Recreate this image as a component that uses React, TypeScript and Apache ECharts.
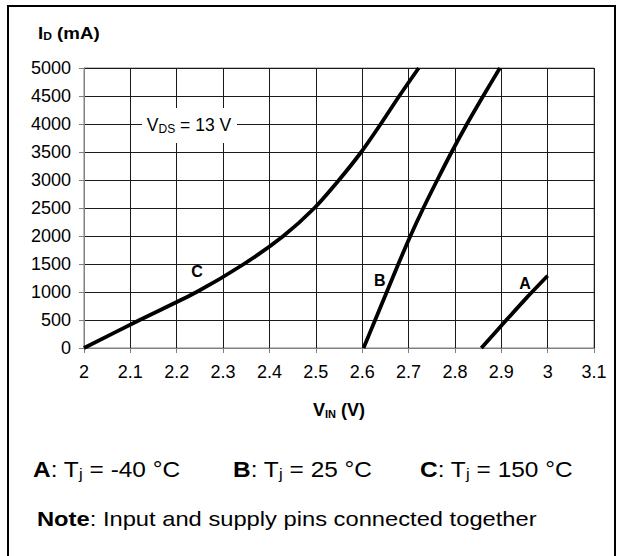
import React, { useEffect, useRef } from "react";
import * as echarts from "echarts";

// Curve data: [V_IN (V), I_D (mA)]
const curveA: [number, number][] = [
  [2.857, 0], [2.91, 490], [2.955, 900], [3.0, 1290],
];
const curveB: [number, number][] = [
  [2.603, 0], [2.628, 500], [2.653, 1000], [2.678, 1500], [2.704, 2000],
  [2.732, 2500], [2.762, 3000], [2.793, 3500], [2.826, 4000], [2.861, 4500],
  [2.897, 5000],
];
const curveC: [number, number][] = [
  [2.0, 0], [2.12, 500], [2.243, 1000], [2.345, 1500], [2.43, 2000],
  [2.497, 2500], [2.55, 3000], [2.598, 3500], [2.64, 4000], [2.68, 4500],
  [2.722, 5000],
];
const curveNames = ["A", "B", "C"];
// label anchor for each curve letter, in data units
const labelPos: [number, number][] = [[2.951, 1160], [2.638, 1210], [2.244, 1360]];

const xMin = 2.0;
const xMax = 3.1;
const xStep = 0.1;
const yMin = 0;
const yMax = 5000;
const yStep = 500;

const legendItems = [
  { key: "A", temp: "-40 °C" },
  { key: "B", temp: "25 °C" },
  { key: "C", temp: "150 °C" },
];
const noteText = "Input and supply pins connected together";
const vdsText = "13 V";

const FONT = "'Liberation Sans', Arial, Helvetica, sans-serif";

export default function App() {
  const ref = useRef<HTMLDivElement>(null);
  useEffect(() => {
    if (!ref.current) return;
    const chart = echarts.init(ref.current, null, { renderer: "svg" });
    const datasets = [curveA, curveB, curveC];
    const series: any[] = datasets.map((d, i) => ({
      type: "line",
      name: curveNames[i],
      data: d,
      showSymbol: false,
      smooth: 0.25,
      lineStyle: { color: "#000", width: 3.8 },
      z: 5,
      markPoint: {
        symbol: "circle",
        symbolSize: 0,
        data: [{ coord: labelPos[i], value: curveNames[i] }],
        label: {
          show: true,
          formatter: curveNames[i],
          color: "#000",
          fontFamily: FONT,
          fontWeight: "bold",
          fontSize: 16,
        },
      },
    }));

    const legendX = [33, 233, 420];
    const graphic: any[] = [
      {
        type: "rect",
        shape: { x: 8, y: 6, width: 607, height: 600 },
        style: { fill: "none", stroke: "#000", lineWidth: 2 },
        silent: true,
      },
      {
        type: "text",
        x: 38,
        y: 33,
        scaleX: 1.1,
        style: {
          text: "{b|I}{s|D}{b| (mA)}",
          fontFamily: FONT,
          verticalAlign: "middle",
          rich: {
            b: { fontFamily: FONT, fontWeight: "bold", fontSize: 17, fill: "#000" },
            s: { fontFamily: FONT, fontWeight: "bold", fontSize: 11, fill: "#000", padding: [7, 0, 0, 0] },
          },
        },
      },
      {
        type: "text",
        x: 339,
        y: 410,
        style: {
          text: "{b|V}{s|IN}{b| (V)}",
          fontFamily: FONT,
          align: "center",
          verticalAlign: "middle",
          rich: {
            b: { fontFamily: FONT, fontWeight: "bold", fontSize: 18, fill: "#000" },
            s: { fontFamily: FONT, fontWeight: "bold", fontSize: 11, fill: "#000", padding: [7, 0, 0, 0] },
          },
        },
      },
      {
        type: "rect",
        shape: { x: 142, y: 108, width: 95, height: 35 },
        style: { fill: "#fff" },
        z: 10,
      },
      {
        type: "text",
        x: 189,
        y: 125,
        z: 11,
        style: {
          text: "{n|V}{s|DS}{n| = " + vdsText + "}",
          align: "center",
          verticalAlign: "middle",
          rich: {
            n: { fontFamily: FONT, fontSize: 17.5, fill: "#000" },
            s: { fontFamily: FONT, fontSize: 12, fill: "#000", padding: [7, 0, 0, 0] },
          },
        },
      },
      ...legendItems.map((it, i) => ({
        type: "text",
        x: legendX[i],
        y: 469,
        scaleX: 1.11,
        style: {
          text: "{b|" + it.key + "}{n|: T}{s|j}{n| = " + it.temp + "}",
          verticalAlign: "middle",
          rich: {
            b: { fontFamily: FONT, fontWeight: "bold", fontSize: 22, fill: "#000" },
            n: { fontFamily: FONT, fontSize: 22, fill: "#000" },
            s: { fontFamily: FONT, fontSize: 15, fill: "#000", padding: [9, 0, 0, 0] },
          },
        },
      })),
      {
        type: "text",
        x: 37,
        y: 519,
        scaleX: 1.13,
        style: {
          text: "{b|Note}{n|: " + noteText + "}",
          verticalAlign: "middle",
          rich: {
            b: { fontFamily: FONT, fontWeight: "bold", fontSize: 21, fill: "#000" },
            n: { fontFamily: FONT, fontSize: 21, fill: "#000" },
          },
        },
      },
    ];

    chart.setOption({
      animation: false,
      backgroundColor: "#fff",
      grid: { left: 84, right: 28, top: 68, bottom: 208, show: true, borderColor: "#808080", borderWidth: 1 },
      xAxis: {
        type: "value",
        min: xMin,
        max: xMax,
        interval: xStep,
        axisLine: { show: true, lineStyle: { color: "#808080", width: 1 } },
        axisTick: { show: true, length: 5, lineStyle: { color: "#808080" } },
        axisLabel: {
          margin: 15,
          color: "#000",
          fontFamily: FONT,
          fontSize: 18,
          formatter: (v: number) => String(Number(v.toFixed(1))),
        },
        splitLine: { show: true, lineStyle: { color: "#1a1a1a", width: 1 } },
      },
      yAxis: {
        type: "value",
        min: yMin,
        max: yMax,
        interval: yStep,
        axisLine: { show: true, lineStyle: { color: "#808080", width: 1 } },
        axisTick: { show: true, length: 5, lineStyle: { color: "#808080" } },
        axisLabel: {
          margin: 13,
          color: "#000",
          fontFamily: FONT,
          fontSize: 18,
          formatter: (v: number) => String(v),
        },
        splitLine: { show: true, lineStyle: { color: "#1a1a1a", width: 1 } },
      },
      series,
      graphic,
    });
    return () => chart.dispose();
  }, []);
  return (
    <div
      ref={ref}
      style={{ position: "fixed", left: 0, top: 0, width: 622, height: 556, background: "#fff" }}
    />
  );
}
